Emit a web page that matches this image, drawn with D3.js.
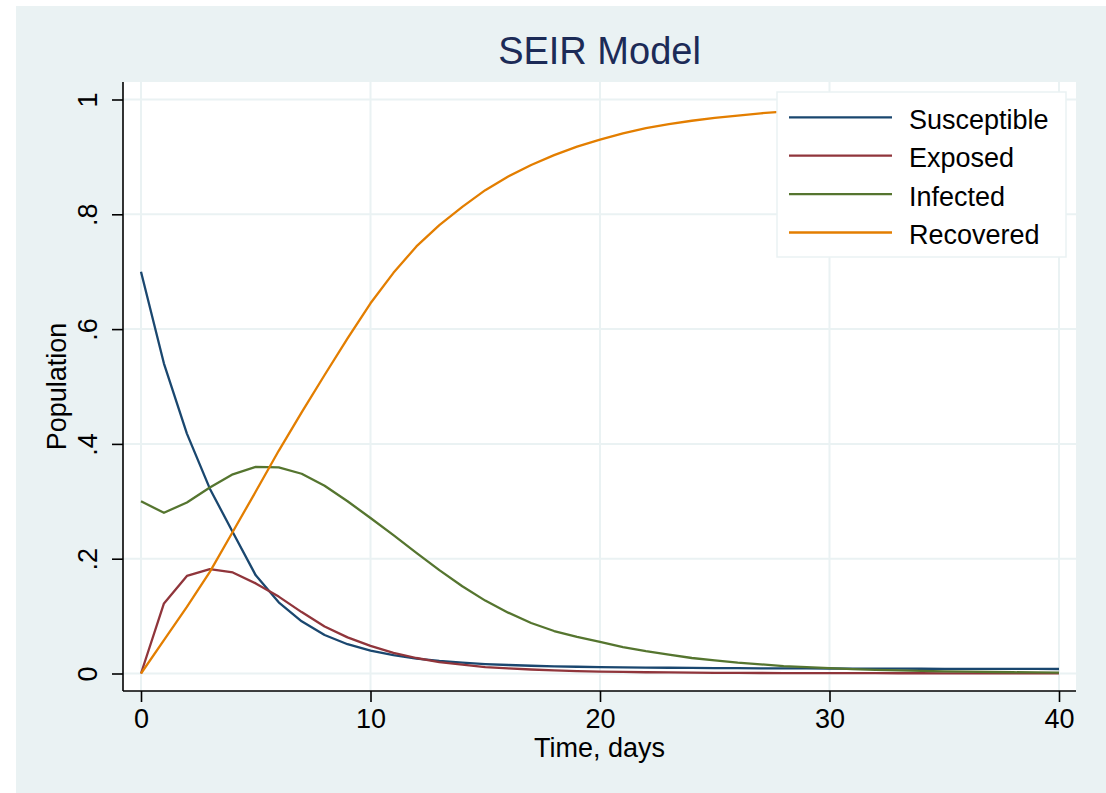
<!DOCTYPE html>
<html>
<head>
<meta charset="utf-8">
<script src="https://cdn.jsdelivr.net/npm/d3@7"></script>
<style>
  html, body { margin: 0; padding: 0; background: #ffffff; }
  svg { display: block; font-family: "Liberation Sans", Arial, sans-serif; }
</style>
</head>
<body>
<div id="chart"></div>
<script>
// days 0..40
const days = d3.range(0, 41);

const susceptible = [0.700, 0.540, 0.418, 0.322, 0.246, 0.171, 0.124, 0.091, 0.067, 0.051,
  0.040, 0.032, 0.026, 0.022, 0.019, 0.0165, 0.0148, 0.0135, 0.0125, 0.0118,
  0.0112, 0.0107, 0.0103, 0.0100, 0.0097, 0.0095, 0.0093, 0.0091, 0.0089, 0.0088,
  0.0087, 0.0086, 0.0085, 0.0084, 0.0083, 0.0082, 0.0081, 0.0080, 0.0080, 0.0079, 0.0078];

const exposed = [0, 0.122, 0.170, 0.182, 0.176, 0.157, 0.134, 0.107, 0.082, 0.063,
  0.048, 0.036, 0.027, 0.020, 0.0155, 0.011, 0.0088, 0.0070, 0.0055, 0.0043,
  0.0034, 0.0027, 0.0022, 0.0018, 0.0015, 0.0012, 0.0010, 0.0009, 0.0008, 0.0007,
  0.0006, 0.0005, 0.0005, 0.0004, 0.0004, 0.0003, 0.0003, 0.0003, 0.0002, 0.0002, 0.0002];

const infected = [0.300, 0.280, 0.298, 0.324, 0.347, 0.360, 0.359, 0.348, 0.327, 0.300,
  0.271, 0.241, 0.210, 0.180, 0.152, 0.127, 0.106, 0.088, 0.074, 0.064,
  0.055, 0.046, 0.039, 0.033, 0.027, 0.023, 0.019, 0.016, 0.013, 0.011,
  0.0092, 0.0077, 0.0064, 0.0053, 0.0044, 0.0037, 0.0031, 0.0026, 0.0022, 0.0018, 0.0015];

const recovered = [0, 0.058, 0.116, 0.177, 0.247, 0.317, 0.388, 0.455, 0.520, 0.584,
  0.645, 0.698, 0.744, 0.781, 0.813, 0.842, 0.866, 0.886, 0.903, 0.918,
  0.930, 0.941, 0.950, 0.957, 0.963, 0.968, 0.972, 0.976, 0.979, 0.981,
  0.983, 0.985, 0.986, 0.987, 0.988, 0.988, 0.989, 0.989, 0.990, 0.990, 0.990];

const seriesNames = ["Susceptible", "Exposed", "Infected", "Recovered"];
const seriesColors = ["#1a476f", "#90353b", "#55752f", "#e37e00"];
const xTicks = [0, 10, 20, 30, 40];
const yTicks = [0, 0.2, 0.4, 0.6, 0.8, 1];
const yTickLabels = ["0", ".2", ".4", ".6", ".8", "1"];

const width = 1106, height = 793;
const bg = "#eaf2f3";
const plot = { left: 123, right: 1076, top: 82, bottom: 691 };

const svg = d3.select("#chart").append("svg")
  .attr("width", width)
  .attr("height", height);

// graph region
svg.append("rect")
  .attr("x", 16).attr("y", 6)
  .attr("width", width - 16).attr("height", height - 6)
  .attr("fill", bg);

// plot region
svg.append("rect")
  .attr("x", plot.left).attr("y", plot.top)
  .attr("width", plot.right - plot.left).attr("height", plot.bottom - plot.top)
  .attr("fill", "#ffffff");

const x = d3.scaleLinear().domain([0, 40]).range([141, 1059]);
const y = d3.scaleLinear().domain([0, 1]).range([673.5, 99.5]);

// grid
const grid = svg.append("g");
grid.selectAll(".gy").data(yTicks).enter().append("line")
  .attr("x1", plot.left).attr("x2", plot.right)
  .attr("y1", d => y(d)).attr("y2", d => y(d))
  .attr("stroke", bg).attr("stroke-width", 2);
grid.selectAll(".gx").data(xTicks).enter().append("line")
  .attr("x1", d => x(d)).attr("x2", d => x(d))
  .attr("y1", plot.top).attr("y2", plot.bottom)
  .attr("stroke", bg).attr("stroke-width", 2);

// lines
const allSeries = [susceptible, exposed, infected, recovered];
const line = d3.line()
  .x((d, i) => x(days[i]))
  .y(d => y(d));

svg.append("g").selectAll("path").data(allSeries).enter().append("path")
  .attr("fill", "none")
  .attr("stroke", (d, i) => seriesColors[i])
  .attr("stroke-width", 2.3)
  .attr("stroke-linejoin", "round")
  .attr("d", line);

// axes
const xAxis = d3.axisBottom(x).tickValues(xTicks).tickSize(11).tickSizeOuter(0).tickPadding(6);
const yAxis = d3.axisLeft(y).tickValues(yTicks).tickSize(11).tickSizeOuter(0)
  .tickFormat((d, i) => yTickLabels[i]);

const xg = svg.append("g")
  .attr("transform", `translate(0,${plot.bottom})`)
  .call(xAxis);
xg.select(".domain").remove();
xg.append("line")
  .attr("x1", plot.left).attr("x2", plot.right)
  .attr("stroke", "#000").attr("stroke-width", 1.6);
xg.selectAll(".tick line").attr("stroke", "#000").attr("stroke-width", 1.6);
xg.selectAll(".tick text")
  .attr("fill", "#000")
  .attr("font-size", 27)
  .attr("font-family", "Liberation Sans, Arial, sans-serif")
  .attr("dy", null)
  .attr("y", 37);

const yg = svg.append("g")
  .attr("transform", `translate(${plot.left},0)`)
  .call(yAxis);
yg.select(".domain").remove();
yg.append("line")
  .attr("y1", plot.top).attr("y2", plot.bottom)
  .attr("stroke", "#000").attr("stroke-width", 1.6);
yg.selectAll(".tick line").attr("stroke", "#000").attr("stroke-width", 1.6);
yg.selectAll(".tick text")
  .attr("fill", "#000")
  .attr("font-size", 27)
  .attr("font-family", "Liberation Sans, Arial, sans-serif")
  .attr("x", null).attr("dy", null)
  .attr("text-anchor", "middle")
  .attr("transform", "translate(-26,0) rotate(-90)");

// axis titles
svg.append("text")
  .attr("x", (plot.left + plot.right) / 2)
  .attr("y", 757)
  .attr("text-anchor", "middle")
  .attr("font-size", 27)
  .attr("fill", "#000")
  .text("Time, days");

svg.append("text")
  .attr("transform", `translate(66,${(plot.top + plot.bottom) / 2}) rotate(-90)`)
  .attr("text-anchor", "middle")
  .attr("font-size", 27)
  .attr("fill", "#000")
  .text("Population");

// title
svg.append("text")
  .attr("x", (plot.left + plot.right) / 2)
  .attr("y", 64)
  .attr("text-anchor", "middle")
  .attr("font-size", 38)
  .attr("fill", "#1c2b57")
  .text("SEIR Model");

// legend
const legend = svg.append("g");
legend.append("rect")
  .attr("x", 777).attr("y", 92)
  .attr("width", 289).attr("height", 165)
  .attr("fill", "#ffffff")
  .attr("stroke", bg).attr("stroke-width", 1.5);

const rows = legend.selectAll(".row").data(seriesNames).enter().append("g")
  .attr("transform", (d, i) => `translate(0,${117.3 + i * 38.4})`);
rows.append("line")
  .attr("x1", 789).attr("x2", 892)
  .attr("stroke", (d, i) => seriesColors[i])
  .attr("stroke-width", 2.3);
rows.append("text")
  .attr("x", 909)
  .attr("y", 11.5)
  .attr("font-size", 27)
  .attr("fill", "#000")
  .text(d => d);
</script>
</body>
</html>
